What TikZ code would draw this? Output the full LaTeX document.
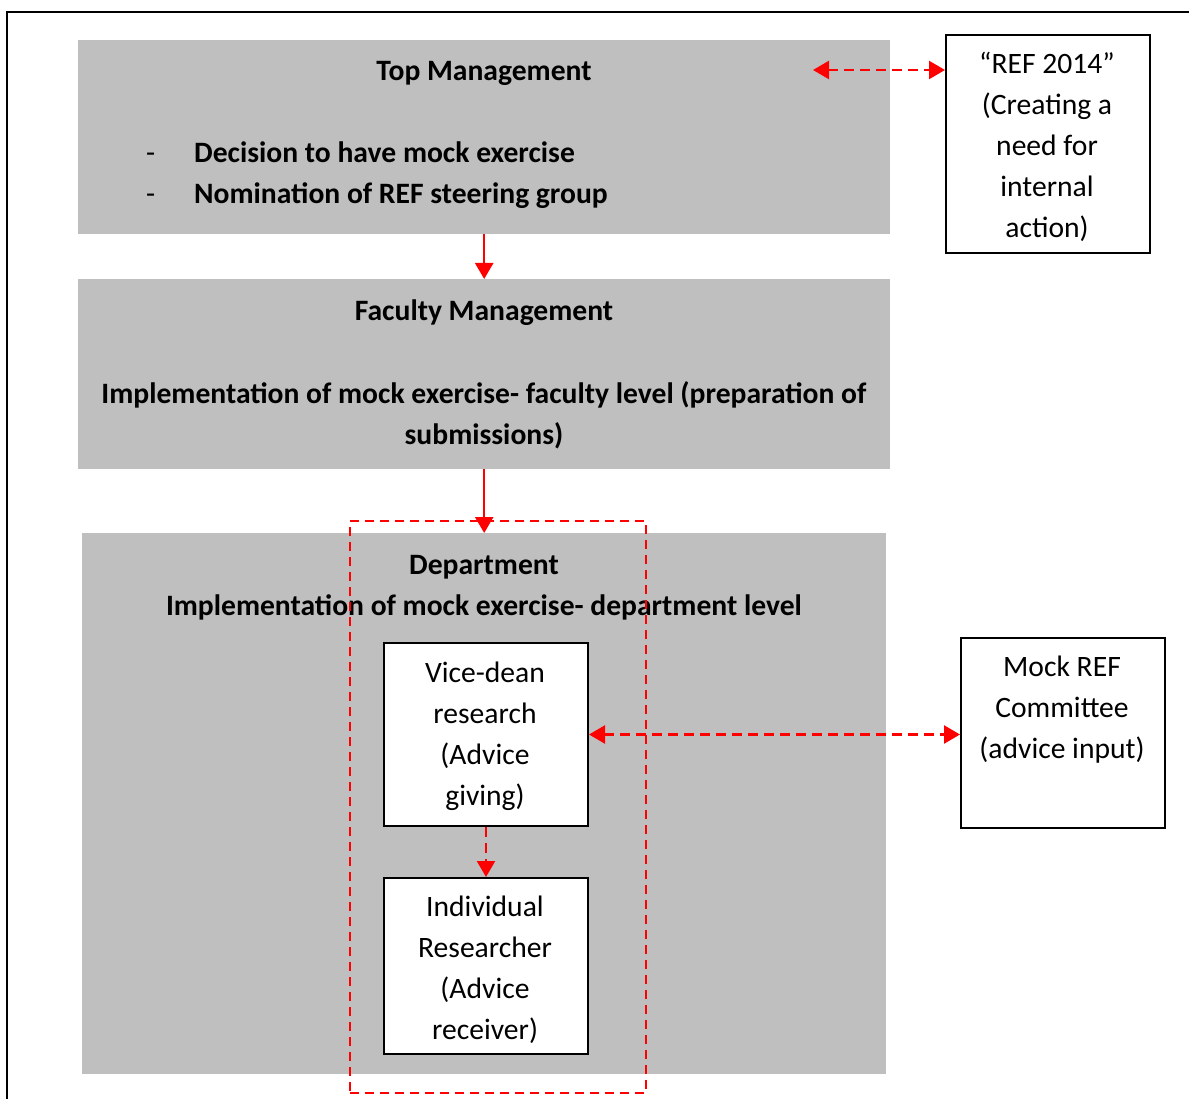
\documentclass[tikz,border=0pt]{standalone}
\usepackage{fontspec}
\setmainfont{Carlito}
\usetikzlibrary{arrows.meta,positioning}
\definecolor{boxgray}{HTML}{BFBFBF}

\begin{document}
\begin{tikzpicture}
[
x=1pt, y=-1pt,
every node/.style={inner sep=0pt, font=\fontsize{29.6}{41}\selectfont},
graybox/.style={fill=boxgray, anchor=north west},
whitebox/.style={draw, fill=white, line width=2pt, anchor=north west},
txt/.style={anchor=base, align=center},
head/.style={txt, font=\fontsize{29.6}{41}\selectfont\bfseries},
zone/.style={draw=red, line width=2pt, dash pattern=on 9pt off 6pt, anchor=north west},
link/.style={red, line width=2.4pt, -{Triangle[length=16pt, width=18pt]}},
dashlink/.style={link, dash pattern=on 10pt off 6pt},
duallink/.style={dashlink, {Triangle[length=16pt, width=18pt]}-{Triangle[length=16pt, width=18pt]}}
]

\useasboundingbox (0,0) rectangle (1189,1099);
\draw[line width=2pt] (7,1099) -- (7,12) -- (1189,12);

% grey levels
\node[graybox, minimum width=812pt, minimum height=194pt] (top) at (78,40) {};
\node[graybox, minimum width=812pt, minimum height=190pt] (fac) at (78,279) {};
\node[graybox, minimum width=804pt, minimum height=541pt] (dept) at (82,533) {};

\node[head] (toptitle) at (484,81) {Top Management};
\node[anchor=base west] (dash1) at (146,163) {-};
\node[anchor=base west] (dash2) at (146,204) {-};
\node[anchor=base west, font=\fontsize{29.6}{41}\selectfont\bfseries] (dec) at (194,163) {Decision to have mock exercise};
\node[anchor=base west, font=\fontsize{29.6}{41}\selectfont\bfseries] (nom) at (194,204) {Nomination of REF steering group};

\node[head] (factitle) at (484,321) {Faculty Management};
\node[head] (facimpl) at (484,444) {Implementation of mock exercise- faculty level (preparation of\\submissions)};

\node[head] (depttitle) at (484,574) {Department};
\node[head] (deptimpl) at (484,615) {Implementation of mock exercise- department level};

% dashed frame round the advice chain
\node[zone, minimum width=296pt, minimum height=572pt] (chain) at (349,520) {};

% white boxes
\node[whitebox, minimum width=204pt, minimum height=218pt] (ref) at (945,34) {};
\node[txt] (reftext) at (1047,238) {“REF 2014”\\(Creating a\\need for\\internal\\action)};

\node[whitebox, minimum width=204pt, minimum height=183pt] (vice) at (383,642) {};
\node[txt] (vicetext) at (485,805) {Vice-dean\\research\\(Advice\\giving)};

\node[whitebox, minimum width=204pt, minimum height=176pt] (indiv) at (383,877) {};
\node[txt] (indivtext) at (485,1039) {Individual\\Researcher\\(Advice\\receiver)};

\node[whitebox, minimum width=204pt, minimum height=190pt] (mock) at (960,637) {};
\node[txt] (mocktext) at (1062,758) {Mock REF\\Committee\\(advice input)};

% connectors
\coordinate (refin) at (813,70);
\draw[duallink] (refin) -- (refin -| ref.west);
\draw[link] (top.south) -- (fac.north);
\draw[link] (fac.south) -- (dept.north);
\draw[dashlink] (vice.south) -- (indiv.north);
\draw[duallink] (vice.east) -- (vice.east -| mock.west);
\end{tikzpicture}
\end{document}
